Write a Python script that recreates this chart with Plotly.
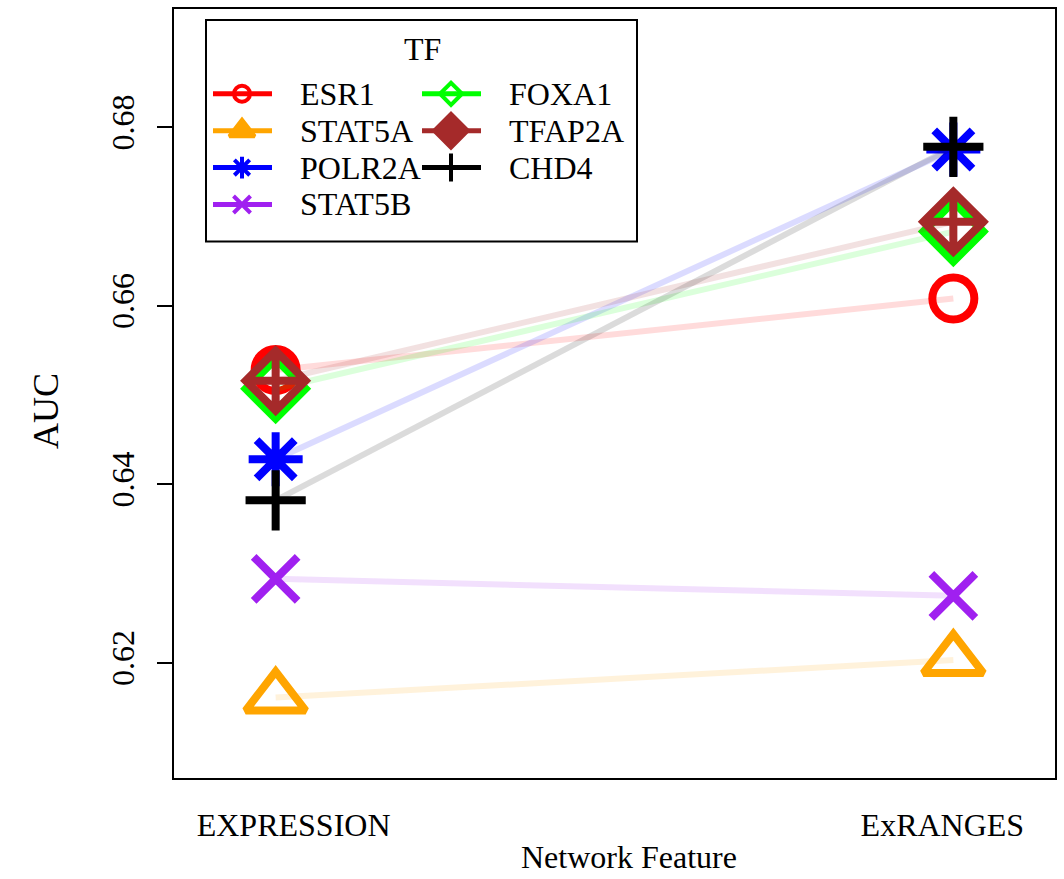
import plotly.graph_objects as go

# ---------------- data ----------------
tfs = ["ESR1", "STAT5A", "POLR2A", "STAT5B", "FOXA1", "TFAP2A", "CHD4"]
features = ["EXPRESSION", "ExRANGES"]
expression_auc = [0.6528, 0.6161, 0.6428, 0.6294, 0.6507, 0.6516, 0.6382]
exranges_auc = [0.6608, 0.6203, 0.6775, 0.6275, 0.6683, 0.6694, 0.6778]
y_ticks = [0.62, 0.64, 0.66, 0.68]

# ---------------- styles ----------------
colors = {"ESR1": "#FF0000", "STAT5A": "#FFA500", "POLR2A": "#0000FF",
          "STAT5B": "#A020F0", "FOXA1": "#00FF00", "TFAP2A": "#A52A2A",
          "CHD4": "#000000"}
rgb = {k: tuple(int(v[i:i + 2], 16) for i in (1, 3, 5)) for k, v in colors.items()}
symbols = {"ESR1": ("circle-open", 42), "STAT5A": ("triangle-up-open", 52),
           "POLR2A": ("asterisk-open", 45), "STAT5B": ("x-thin-open", 44),
           "FOXA1": ("diamond-open", 46), "TFAP2A": ("diamond-cross-open", 46),
           "CHD4": ("cross-thin-open", 43)}
leg_symbols = {"ESR1": ("circle-open", 16), "STAT5A": ("triangle-up", 22),
               "POLR2A": ("asterisk-open", 18), "STAT5B": ("x-thin-open", 17),
               "FOXA1": ("diamond-open", 17), "TFAP2A": ("diamond", 26),
               "CHD4": ("cross-thin-open", 20)}

FONT = "Liberation Serif"
FS = 32
W, H = 1064, 879
L, R, T, B = 174, 1055, 7, 778  # plot frame in pixels


def px_to_paper(px, py):
    return (px - L) / (R - L), (B - py) / (B - T)


fig = go.Figure()
xpos = [1, 2]
for i, tf in enumerate(tfs):
    ys = [expression_auc[i], exranges_auc[i]]
    r, g, b = rgb[tf]
    fig.add_trace(go.Scatter(x=xpos, y=ys, mode="lines",
                             line=dict(color=f"rgba({r},{g},{b},0.14)", width=6),
                             showlegend=False, hoverinfo="skip"))
    sym, sz = symbols[tf]
    fig.add_trace(go.Scatter(x=xpos, y=ys, mode="markers", name=tf,
                             marker=dict(symbol=sym, size=sz, color=colors[tf],
                                         line=dict(color=colors[tf], width=8)),
                             showlegend=False))

# ---------------- manual legend (pixel overlay axes) ----------------
box = (206, 18, 637, 240)
row0, dy = 92, 37
col_x = [213, 422]
line_len, mark_off, text_off = 59, 29, 85
shapes = [dict(type="rect", xref="x2", yref="y2", x0=box[0], y0=box[1], x1=box[2], y1=box[3],
               line=dict(color="black", width=2), fillcolor="white", layer="below")]
annotations = [dict(xref="x2", yref="y2", x=422, y=47, text="TF",
                    showarrow=False, font=dict(family=FONT, size=FS, color="black"))]
for i, tf in enumerate(tfs):
    c, rr = divmod(i, 4)
    x0 = col_x[c]
    y = row0 + rr * dy
    fig.add_trace(go.Scatter(x=[x0, x0 + line_len], y=[y, y], mode="lines", xaxis="x2", yaxis="y2",
                             line=dict(color=colors[tf], width=5), showlegend=False, hoverinfo="skip"))
    sym, sz = leg_symbols[tf]
    fig.add_trace(go.Scatter(x=[x0 + mark_off], y=[y], mode="markers", xaxis="x2", yaxis="y2",
                             marker=dict(symbol=sym, size=sz, color=colors[tf],
                                         line=dict(color=colors[tf], width=4)),
                             showlegend=False, hoverinfo="skip"))
    annotations.append(dict(xref="x2", yref="y2", x=x0 + text_off, y=y, text=tf, xanchor="left",
                            showarrow=False, font=dict(family=FONT, size=FS, color="black")))

# axis titles (paper coordinates, outside the plot area)
tx, ty = px_to_paper(629, 857)
annotations.append(dict(xref="paper", yref="paper", x=tx, y=ty,
                        text="Network Feature", showarrow=False, yanchor="middle", xanchor="center",
                        font=dict(family=FONT, size=FS, color="black")))
ax, ay = px_to_paper(46, 410)
annotations.append(dict(xref="paper", yref="paper", x=ax, y=ay,
                        text="AUC", showarrow=False, textangle=-90, xanchor="center",
                        yanchor="middle", font=dict(family=FONT, size=36, color="black")))

fig.update_layout(
    width=W, height=H,
    margin=dict(l=L, r=W - R, t=T, b=H - B, pad=0),
    paper_bgcolor="white", plot_bgcolor="white",
    showlegend=False,
    font=dict(family=FONT, size=FS, color="black"),
    xaxis=dict(range=[0.85, 2.15], tickvals=[1.0265, 1.9838], ticktext=features,
               ticks="", showgrid=False, zeroline=False, showline=True, mirror=True,
               linecolor="black", linewidth=2, ticklabelstandoff=18,
               tickfont=dict(family=FONT, size=FS, color="black")),
    yaxis=dict(range=[0.60709, 0.69324], tickvals=y_ticks, ticktext=[f"{v:.2f}" for v in y_ticks],
               ticks="outside", ticklen=15, tickwidth=2, tickcolor="black", tickangle=-90,
               showgrid=False, zeroline=False, showline=True, mirror=True,
               linecolor="black", linewidth=2, ticklabelstandoff=10,
               tickfont=dict(family=FONT, size=FS, color="black")),
    xaxis2=dict(range=[L, R], overlaying="x", visible=False, fixedrange=True),
    yaxis2=dict(range=[B, T], overlaying="y", visible=False, fixedrange=True),
    shapes=shapes, annotations=annotations,
)

fig.write_html("out.html")
